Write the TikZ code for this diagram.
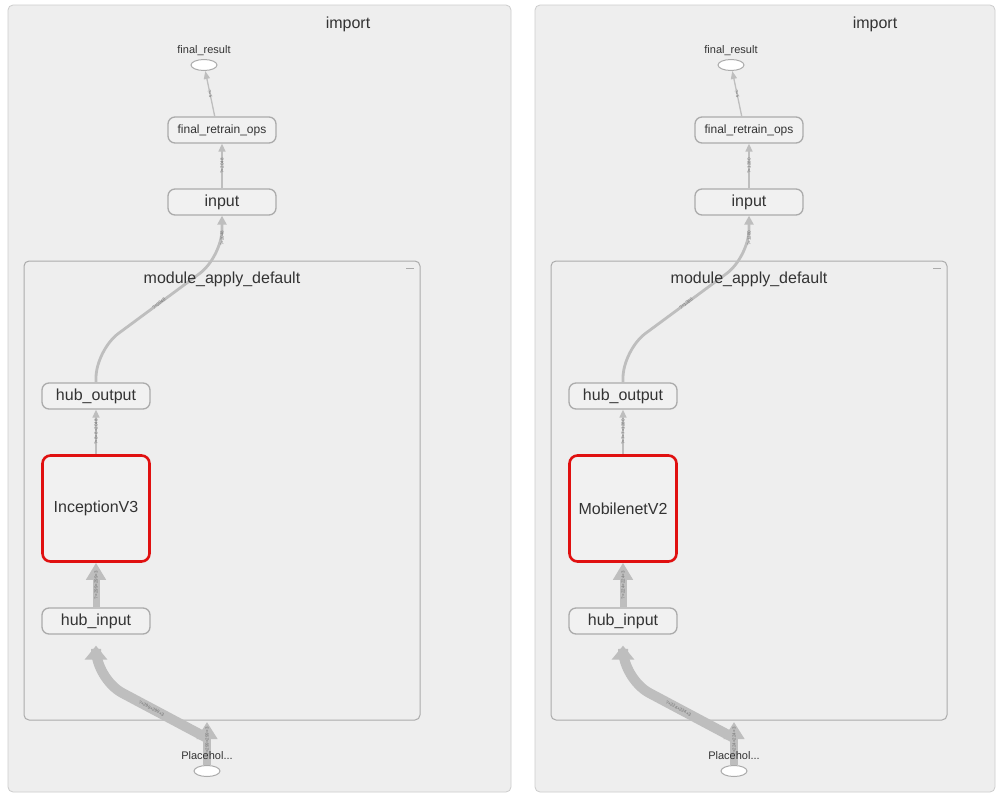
\documentclass[tikz,border=0pt]{standalone}
\usepackage{fontspec}
\setmainfont{Liberation Sans}
\usetikzlibrary{arrows.meta,shapes.geometric}

\definecolor{panelbg}{HTML}{EEEEEE}
\definecolor{panelline}{HTML}{CCCCCC}
\definecolor{nodebg}{HTML}{F1F1F1}
\definecolor{nodeline}{HTML}{ABABAB}
\definecolor{edgecol}{HTML}{BEBEBE}
\definecolor{tfred}{HTML}{E01010}
\definecolor{txt}{HTML}{333333}
\definecolor{lbl}{HTML}{707070}

\tikzset{
  panelbox/.style={fill=panelbg, draw=panelline, line width=0.8pt, rounded corners=5pt},
  clusterbox/.style={fill=panelbg, draw=nodeline, line width=1pt, rounded corners=5pt},
  titletext/.style={font=\fontsize{16}{18}\selectfont, text=txt, inner sep=0pt},
  opbox/.style={draw=nodeline, fill=nodebg, line width=1.3pt, rounded corners=7pt,
    minimum width=108pt, minimum height=26pt, inner sep=0pt, text=txt},
  bigop/.style={opbox, font=\fontsize{16}{18}\selectfont},
  midop/.style={opbox, font=\fontsize{12}{14}\selectfont},
  netbox/.style={draw=tfred, fill=nodebg, line width=2.6pt, rounded corners=8pt,
    minimum width=107pt, minimum height=106pt, inner sep=0pt, text=txt,
    font=\fontsize{16}{18}\selectfont},
  smallop/.style={draw=nodeline, fill=white, line width=1pt, ellipse,
    minimum width=26pt, minimum height=11pt, inner sep=0pt},
  smalltext/.style={font=\fontsize{11}{13}\selectfont, text=txt, inner sep=0pt},
  edgeline/.style={draw=edgecol, line cap=butt},
  elabel/.style={font=\fontsize{4.5}{5}\selectfont, text=lbl, sloped, inner sep=0.5pt},
}

% One "import" panel: #1 name prefix, #2 horizontal shift, #3 right edge of the panel,
% #4 network name, #5 feature label, #6 network output label, #7 image label
\newcommand\netpanel[7]{%
\begin{scope}[xshift=#2pt]
  \path[panelbox] (8,5) rectangle (#3,792);
  \node[titletext] (#1imp) at (348,24) {import};
  \path[clusterbox] (24,261) rectangle (420,720);
  \draw[nodeline, line width=1pt] (406,268) -- (414,268);

  \node[smallop] (#1res) at (204,65) {};
  \node[smalltext] (#1resl) at (204,51) {final\_result};
  \node[midop] (#1fro) at (222,130) {final\_retrain\_ops};
  \node[bigop] (#1in) at (222,202) {input};
  \node[bigop] (#1hout) at (96,396) {hub\_output};
  \node[netbox] (#1net) at (96,508.5) {#4};
  \node[bigop] (#1hin) at (96,621) {hub\_input};
  \node[smallop] (#1ph) at (207,771) {};
  \coordinate (#1port) at (207,722);
  \coordinate (#1entry) at (207,738);

  % edges
  \draw[edgeline, line width=1.3pt, -{Triangle[width=6pt,length=8pt]}]
    (#1fro.118) -- node[elabel]{?×5} (#1res.282);
  \draw[edgeline, line width=1.6pt, -{Triangle[width=7pt,length=8pt]}]
    (#1in.north) -- node[elabel]{?×#5} (#1fro.south);
  \draw[edgeline, line width=2.8pt, -{Triangle[width=9pt,length=9pt]}]
    (#1hout.north) [rounded corners=28pt] -- (96,350)
    -- node[elabel, pos=.5]{?×#5} (222,257) [sharp corners]
    -- node[elabel, pos=.45]{?×#5} (#1in.south);
  \draw[edgeline, line width=1.6pt, -{Triangle[width=7pt,length=8pt]}]
    (#1net.north) -- node[elabel]{?×#6} (#1hout.south);
  \draw[edgeline, line width=7pt, -{Triangle[width=19pt,length=17pt]}]
    (#1hin.north) -- node[elabel]{?×#7×#7×3} (#1net.south);
  \draw[edgeline, line width=10pt, -{Triangle[width=22pt,length=14pt]}]
    (#1entry) [rounded corners=30pt] -- node[elabel, pos=.5]{?×#7×#7×3} (96,679)
    [sharp corners] -- ([yshift=-11pt]#1hin.south);
  \draw[edgeline, line width=8pt, -{Triangle[width=20pt,length=17pt]}]
    (#1ph.north) -- node[elabel, pos=.55]{?×#7×#7×3} (#1port);
  \node[smalltext] (#1phl) at (207,756) {Placehol...};
  \node[titletext] (#1mod) at (222,279) {module\_apply\_default};
\end{scope}}

\begin{document}
\begin{tikzpicture}[x=1pt, y=-1pt]
  \useasboundingbox[fill=white] (0,0) rectangle (1002,793);
  \netpanel{L}{0}{511}{InceptionV3}{2048}{8×8×2048}{299}
  \netpanel{R}{527}{468}{MobilenetV2}{1280}{7×7×1280}{224}
\end{tikzpicture}
\end{document}
